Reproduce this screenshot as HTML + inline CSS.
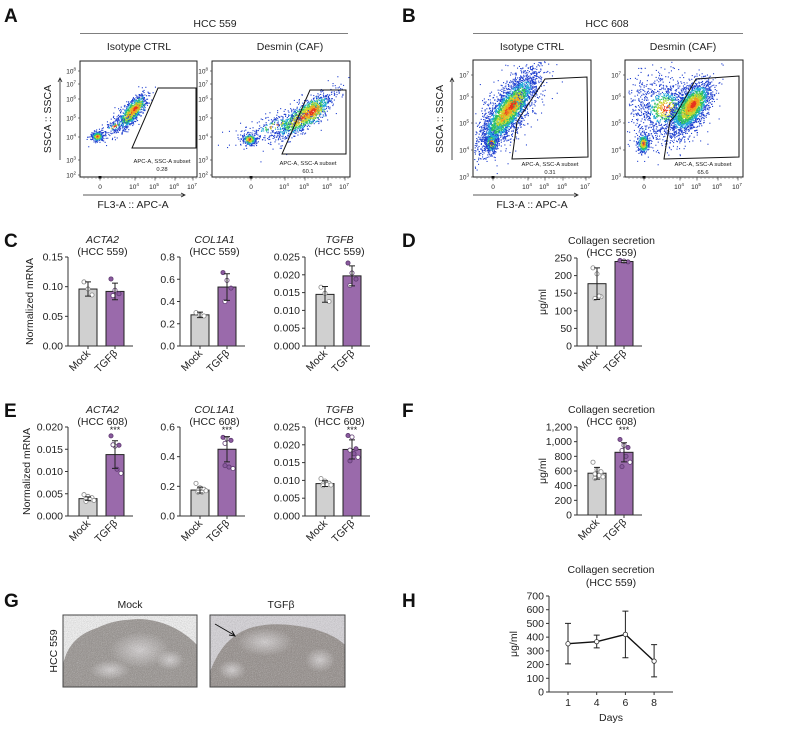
<!DOCTYPE html>
<html><head><meta charset="utf-8">
<style>
html,body{margin:0;padding:0;background:#fff;}
svg{display:block;font-family:"Liberation Sans",Arial,sans-serif;}
</style></head>
<body>
<svg id="fig" width="787" height="733" viewBox="0 0 787 733" xmlns="http://www.w3.org/2000/svg">
<defs>
<radialGradient id="spots" cx="50%" cy="50%" r="50%"><stop offset="0" stop-color="#e8e4e6" stop-opacity="0.8"/><stop offset="1" stop-color="#e8e4e6" stop-opacity="0"/></radialGradient>
<filter id="noise"><feTurbulence type="fractalNoise" baseFrequency="1.2" numOctaves="2" seed="3"/><feColorMatrix type="saturate" values="0"/><feComponentTransfer><feFuncA type="table" tableValues="0 0.7"/></feComponentTransfer><feComposite in2="SourceGraphic" operator="in"/></filter>
<clipPath id="clipG1"><rect x="63" y="615" width="134" height="72"/></clipPath>
<clipPath id="clipG2"><rect x="210" y="615" width="135" height="72"/></clipPath>
</defs>
<g id="root"></g>
</svg>
<script>
// ---------- data ----------
const cats = ['Mock', 'TGFβ'];
const cActa2Means = [0.096, 0.092];
const cActa2Sd = [0.012, 0.014];
const cActa2Mock = [0.108, 0.096, 0.086];
const cActa2Tgf = [0.113, 0.094, 0.088, 0.085];
const cActa2Ticks = [0, 0.05, 0.10, 0.15];
const cCol1Means = [0.28, 0.53];
const cCol1Sd = [0.025, 0.12];
const cCol1Mock = [0.30, 0.28, 0.27];
const cCol1Tgf = [0.66, 0.59, 0.52, 0.40];
const cCol1Ticks = [0, 0.2, 0.4, 0.6, 0.8];
const cTgfbMeans = [0.0145, 0.0197];
const cTgfbSd = [0.0022, 0.0028];
const cTgfbMock = [0.0165, 0.0148, 0.0125];
const cTgfbTgf = [0.0233, 0.0205, 0.0188, 0.0170];
const cTgfbTicks = [0, 0.005, 0.010, 0.015, 0.020, 0.025];
const dMeans = [177, 240];
const dSd = [45, 3];
const dMock = [222, 205, 140, 135, 142];
const dTgf = [243, 241, 239];
const dTicks = [0, 50, 100, 150, 200, 250];
const eActa2Means = [0.0039, 0.0138];
const eActa2Sd = [0.0004, 0.0031];
const eActa2Mock = [0.0048, 0.0044, 0.0041, 0.0039, 0.0037, 0.0035, 0.0033];
const eActa2Tgf = [0.0180, 0.0157, 0.0159, 0.0160, 0.0105, 0.0096];
const eActa2Ticks = [0, 0.005, 0.010, 0.015, 0.020];
const eCol1Means = [0.175, 0.45];
const eCol1Sd = [0.02, 0.085];
const eCol1Mock = [0.22, 0.19, 0.18, 0.17, 0.16, 0.17, 0.16];
const eCol1Tgf = [0.53, 0.52, 0.51, 0.49, 0.33, 0.32, 0.34];
const eCol1Ticks = [0, 0.2, 0.4, 0.6];
const eTgfbMeans = [0.0091, 0.0187];
const eTgfbSd = [0.0008, 0.0027];
const eTgfbMock = [0.0105, 0.0098, 0.0092, 0.0090, 0.0088, 0.0087, 0.0085];
const eTgfbTgf = [0.0226, 0.0222, 0.0189, 0.0185, 0.0175, 0.0165, 0.0155];
const eTgfbTicks = [0, 0.005, 0.010, 0.015, 0.020, 0.025];
const fMeans = [570, 855];
const fSd = [80, 130];
const fMock = [720, 620, 590, 560, 540, 520, 500];
const fTgf = [1030, 950, 920, 880, 800, 720, 660];
const fTicks = [0, 200, 400, 600, 800, 1000, 1200];
const hDays = ['1', '4', '6', '8'];
const hMeans = [352, 367, 420, 225];
const hLow = [205, 322, 250, 110];
const hHigh = [500, 415, 590, 345];
const hTicks = [0, 100, 200, 300, 400, 500, 600, 700];

// ---------- helpers ----------
const NS = 'http://www.w3.org/2000/svg';
const root = document.getElementById('root');
function el(tag, attrs, parent, txt) {
  const e = document.createElementNS(NS, tag);
  for (const k in attrs) e.setAttribute(k, attrs[k]);
  if (txt !== undefined) e.textContent = txt;
  (parent || root).appendChild(e);
  return e;
}
function grp(name, parent) {
  const g = el('g', {}, parent);
  
  
  return g;
}
function txt(x, y, s, size, anchor, parent, name, extra) {
  const a = {x: x, y: y, 'font-size': size, 'text-anchor': anchor || 'middle', fill: '#222'};
  if (extra) for (const k in extra) a[k] = extra[k];
  const t = el('text', a, parent, s);
  
  
  return t;
}
function fmtNum(v, dec) {
  const s = v.toFixed(dec);
  return s.replace(/\B(?=(\d{3})+(?!\d))/g, ',');
}

[['A', 4, 22], ['B', 402, 22], ['C', 4, 247], ['D', 402, 247], ['E', 4, 417], ['F', 402, 417], ['G', 4, 607], ['H', 402, 607]].forEach(function (p) {
  txt(p[1], p[2], p[0], 19, 'start', root, 'panel-letter-' + p[0].toLowerCase(), {'font-weight': 'bold', fill: '#111'});
});

function barChart(name, ax, yTop, yBot, ticks, dec, means, sds, mockPts, tgfPts, title1, title2, stars, yLabel, yLabelX) {
  const g = grp(name);
  const maxV = ticks[ticks.length - 1];
  const y = function (v) { return yBot - (v / maxV) * (yBot - yTop); };
  const xc = [ax + 20, ax + 47];
  const bw = 18;
  txt((ax + ax + 65) / 2 + 2, yTop - 14, title1, 10.5, 'middle', g, 'chart-title', title1 !== 'Collagen secretion' ? {'font-style': 'italic'} : {});
  txt((ax + ax + 65) / 2 + 2, yTop - 2, title2, 10.5, 'middle', g, 'chart-subtitle');
  for (let i = 0; i < 2; i++) {
    const r = el('rect', {x: xc[i] - bw / 2, y: y(means[i]), width: bw, height: yBot - y(means[i]), fill: i ? '#9a6aab' : '#d0d0d0', stroke: '#222', 'stroke-width': 1}, g);
    
    
  }
  [mockPts, tgfPts].forEach(function (pts, i) {
    pts.forEach(function (v, j) {
      const off = ((j % 3) - 1) * 4 + (j > 2 ? 2 : 0);
      const c = el('circle', {cx: xc[i] + off, cy: y(v), r: 2.1, fill: i ? (j % 2 ? '#fff' : '#8a5a9e') : '#fff', stroke: i ? '#5e3a70' : '#888', 'stroke-width': 0.8}, g);
      
      
    });
  });
  for (let i = 0; i < 2; i++) {
    const lo = y(means[i] - sds[i]), hi = y(means[i] + sds[i]);
    const e = el('path', {d: 'M' + xc[i] + ' ' + lo + 'V' + hi + 'M' + (xc[i] - 3) + ' ' + lo + 'h6M' + (xc[i] - 3) + ' ' + hi + 'h6', stroke: '#222', 'stroke-width': 1, fill: 'none'}, g);
    
    
  }
  if (stars) txt(xc[1], yTop + 6, '***', 9, 'middle', g, 'significance-stars');
  const axl = el('path', {d: 'M' + ax + ' ' + yTop + 'V' + yBot + 'H' + (ax + 65), stroke: '#333', 'stroke-width': 1, fill: 'none'}, g);
  
  
  ticks.forEach(function (t) {
    el('line', {x1: ax - 3, x2: ax, y1: y(t), y2: y(t), stroke: '#333'}, g);
    txt(ax - 5, y(t) + 3.5, fmtNum(t, dec), 10.5, 'end', g, 'y-tick-label');
  });
  for (let i = 0; i < 2; i++) {
    el('line', {x1: xc[i], x2: xc[i], y1: yBot, y2: yBot + 3, stroke: '#333'}, g);
    txt(xc[i] + 3, yBot + 8, cats[i], 10.5, 'end', g, 'x-tick-label', {transform: 'rotate(-45 ' + (xc[i] + 3) + ' ' + (yBot + 8) + ')'});
  }
  if (yLabel) {
    const cy = (yTop + yBot) / 2;
    txt(yLabelX, cy, yLabel, 10.5, 'middle', g, 'y-axis-title', {transform: 'rotate(-90 ' + yLabelX + ' ' + cy + ')'});
  }
}

barChart('chart-c-acta2', 68, 257, 346, cActa2Ticks, 2, cActa2Means, cActa2Sd, cActa2Mock, cActa2Tgf, 'ACTA2', '(HCC 559)', false, 'Normalized mRNA', 33);
barChart('chart-c-col1a1', 180, 257, 346, cCol1Ticks, 1, cCol1Means, cCol1Sd, cCol1Mock, cCol1Tgf, 'COL1A1', '(HCC 559)', false);
barChart('chart-c-tgfb', 305, 257, 346, cTgfbTicks, 3, cTgfbMeans, cTgfbSd, cTgfbMock, cTgfbTgf, 'TGFB', '(HCC 559)', false);
barChart('chart-d-collagen', 577, 258, 346, dTicks, 0, dMeans, dSd, dMock, dTgf, 'Collagen secretion', '(HCC 559)', false, 'μg/ml', 546);
barChart('chart-e-acta2', 68, 427, 516, eActa2Ticks, 3, eActa2Means, eActa2Sd, eActa2Mock, eActa2Tgf, 'ACTA2', '(HCC 608)', true, 'Normalized mRNA', 30);
barChart('chart-e-col1a1', 180, 427, 516, eCol1Ticks, 1, eCol1Means, eCol1Sd, eCol1Mock, eCol1Tgf, 'COL1A1', '(HCC 608)', true);
barChart('chart-e-tgfb', 305, 427, 516, eTgfbTicks, 3, eTgfbMeans, eTgfbSd, eTgfbMock, eTgfbTgf, 'TGFB', '(HCC 608)', true);
barChart('chart-f-collagen', 577, 427, 515, fTicks, 0, fMeans, fSd, fMock, fTgf, 'Collagen secretion', '(HCC 608)', true, 'μg/ml', 546);

(function () {
  const g = grp('chart-h-collagen-time');
  const ax = 549, yTop = 596, yBot = 692, xEnd = 673;
  const maxV = hTicks[hTicks.length - 1];
  const y = function (v) { return yBot - v / maxV * (yBot - yTop); };
  const x = function (i) { return 568 + i * 28.7; };
  txt(611, 573, 'Collagen secretion', 10.5, 'middle', g, 'chart-title');
  txt(611, 586, '(HCC 559)', 10.5, 'middle', g, 'chart-subtitle');
  el('path', {d: 'M' + ax + ' ' + yTop + 'V' + yBot + 'H' + xEnd, stroke: '#333', fill: 'none'}, g);
  hTicks.forEach(function (t) {
    el('line', {x1: ax - 3, x2: ax, y1: y(t), y2: y(t), stroke: '#333'}, g);
    txt(ax - 5, y(t) + 3.5, String(t), 10.5, 'end', g, 'y-tick-label');
  });
  hDays.forEach(function (d, i) {
    el('line', {x1: x(i), x2: x(i), y1: yBot, y2: yBot + 3, stroke: '#333'}, g);
    txt(x(i), yBot + 14, d, 10.5, 'middle', g, 'x-tick-label');
  });
  txt(611, 721, 'Days', 10.5, 'middle', g, 'x-axis-title');
  txt(517, 644, 'μg/ml', 10.5, 'middle', g, 'y-axis-title', {transform: 'rotate(-90 517 644)'});
  hMeans.forEach(function (m, i) {
    const e = el('path', {d: 'M' + x(i) + ' ' + y(hLow[i]) + 'V' + y(hHigh[i]) + 'M' + (x(i) - 3) + ' ' + y(hLow[i]) + 'h6M' + (x(i) - 3) + ' ' + y(hHigh[i]) + 'h6', stroke: '#222', fill: 'none'}, g);
    
    
  });
  const line = el('polyline', {points: hMeans.map(function (m, i) { return x(i) + ',' + y(m); }).join(' '), fill: 'none', stroke: '#111', 'stroke-width': 1.4}, g);
  
  
  hMeans.forEach(function (m, i) {
    const c = el('circle', {cx: x(i), cy: y(m), r: 2.2, fill: '#fff', stroke: '#333', 'stroke-width': 0.8}, g);
    
    
  });
})();

let seed = 12345;
function rnd() { seed = (seed * 1103515245 + 12345) % 2147483648; return seed / 2147483648; }
function gauss() { let u = 0, v = 0; while (u === 0) u = rnd(); v = rnd(); return Math.sqrt(-2 * Math.log(u)) * Math.cos(2 * Math.PI * v); }
function colorFor(r) {
  if (r < 0.3) return '#e8321e';
  if (r < 0.6) return '#f0a020';
  if (r < 0.9) return '#c8d830';
  if (r < 1.25) return '#30c060';
  if (r < 1.6) return '#20a8d8';
  return '#2040d0';
}
function cloud(g, blobs, clip) {
  blobs.forEach(function (b) {
    const a = b[4] * Math.PI / 180;
    for (let i = 0; i < b[5]; i++) {
      const u = gauss() * (b[6] || 1), v = gauss() * (b[6] || 1);
      const dx = u * b[2], dy = v * b[3];
      const px = b[0] + dx * Math.cos(a) - dy * Math.sin(a);
      const py = b[1] + dx * Math.sin(a) + dy * Math.cos(a);
      if (px < clip[0] + 1 || px > clip[2] - 1 || py < clip[1] + 1 || py > clip[3] - 1) continue;
      const r = Math.sqrt(u * u + v * v) * (b[7] || 1);
      el('rect', {x: px.toFixed(1), y: py.toFixed(1), width: 1.1, height: 1.1, fill: colorFor(r)}, g);
    }
  });
}
function flowPlot(name, box, yTicks, xTicks, blobs, gate, gateLabelX, gateLabelY, pct) {
  const g = grp(name);
  const dots = grp('scatter-points', g);
  cloud(dots, blobs, box);
  const fr = el('rect', {x: box[0], y: box[1], width: box[2] - box[0], height: box[3] - box[1], fill: 'none', stroke: '#222', 'stroke-width': 1}, g);
  
  
  const gp = el('polygon', {points: gate, fill: 'none', stroke: '#111', 'stroke-width': 1}, g);
  
  
  txt(gateLabelX, gateLabelY, 'APC-A, SSC-A subset', 5.8, 'middle', g, 'gate-label');
  txt(gateLabelX, gateLabelY + 8, pct, 5.8, 'middle', g, 'gate-percentage');
  yTicks.forEach(function (t) {
    el('line', {x1: box[0] - 2, x2: box[0], y1: t[1], y2: t[1], stroke: '#444', 'stroke-width': 0.7}, g);
    const tt = txt(box[0] - 4, t[1] + 2.5, '10', 6.5, 'end', g, 'y-tick-label');
    el('tspan', {dy: -3, 'font-size': 4.5}, tt, t[0]);
  });
  for (let x = box[0] + 4; x < box[2]; x += 4) el('line', {x1: x, x2: x, y1: box[3], y2: box[3] + 2, stroke: '#666', 'stroke-width': 0.5}, g);
  xTicks.forEach(function (t) {
    el('line', {x1: t[1], x2: t[1], y1: box[3], y2: box[3] + 3.5, stroke: '#444', 'stroke-width': 0.7}, g);
    if (t[0] === '0') { txt(t[1], box[3] + 12, '0', 6.5, 'middle', g, 'x-tick-label'); el('rect', {x: t[1] - 1.5, y: box[3] - 1, width: 3, height: 2.5, fill: '#111'}, g); }
    else { const tt = txt(t[1] - 1, box[3] + 12, '10', 6.5, 'middle', g, 'x-tick-label'); el('tspan', {dy: -3, 'font-size': 4.5}, tt, t[0]); }
  });
}
function header(name, cx, x1, x2, title, sub1, c1, sub2, c2) {
  const g = grp(name);
  txt(cx, 27, title, 10.5, 'middle', g, 'group-title');
  el('line', {x1: x1, x2: x2, y1: 33.5, y2: 33.5, stroke: '#555', 'stroke-width': 0.8}, g);
  txt(c1, 50, sub1, 10.5, 'middle', g, 'plot-title');
  txt(c2, 50, sub2, 10.5, 'middle', g, 'plot-title');
}
function axisArrows(name, ax, ayTop, ayBot, bx1, bx2, by, ylx, xlx, xly) {
  const g = grp(name);
  el('path', {d: 'M' + ax + ' ' + ayBot + 'V' + ayTop + 'M' + (ax - 2) + ' ' + (ayTop + 4) + 'L' + ax + ' ' + ayTop + 'L' + (ax + 2) + ' ' + (ayTop + 4), stroke: '#222', fill: 'none', 'stroke-width': 0.8}, g);
  el('path', {d: 'M' + bx1 + ' ' + by + 'H' + bx2 + 'M' + (bx2 - 4) + ' ' + (by - 2) + 'L' + bx2 + ' ' + by + 'L' + (bx2 - 4) + ' ' + (by + 2), stroke: '#222', fill: 'none', 'stroke-width': 0.8}, g);
  const cy = (ayTop + ayBot) / 2;
  txt(ylx, cy, 'SSCA :: SSCA', 10.5, 'middle', g, 'y-axis-title', {transform: 'rotate(-90 ' + ylx + ' ' + cy + ')'});
  txt(xlx, xly, 'FL3-A :: APC-A', 10.5, 'middle', g, 'x-axis-title');
}

header('panel-a-header', 215, 80, 348, 'HCC 559', 'Isotype CTRL', 139, 'Desmin (CAF)', 290);
const aYT = [['8', 71], ['7', 84], ['6', 99], ['5', 118], ['4', 137], ['3', 160], ['2', 175]];
flowPlot('flow-a-isotype', [80, 61, 197, 177], aYT,
  [['0', 100], ['4', 135], ['5', 155], ['6', 175], ['7', 193]],
  [[97, 136, 3, 2.5, 0, 260], [131, 112, 11, 4, -52, 900], [135, 108, 5, 2.5, -52, 150, 1, 0.5], [114, 126, 9, 3, -30, 120, 1.2, 1.8]],
  '158,88 196,88 196,148 132,148', 162, 163, '0.28');
flowPlot('flow-a-desmin', [212, 61, 350, 177], aYT,
  [['0', 251], ['4', 285], ['5', 305], ['6', 328], ['7', 345]],
  [[249, 139, 3.5, 3, 0, 260], [303, 116, 18, 6, -35, 1100], [312, 111, 7, 4, -40, 250, 1, 0.5], [275, 125, 18, 5, -20, 250, 1.2, 1.8]],
  '310,90 346,90 346,154 282,154', 308, 165, '60.1');
axisArrows('panel-a-axes', 60, 78, 160, 83, 185, 195, 51, 133, 208);

header('panel-b-header', 607, 473, 743, 'HCC 608', 'Isotype CTRL', 532, 'Desmin (CAF)', 683);
const bYT = [['7', 75], ['6', 97], ['5', 123], ['4', 150], ['3', 177]];
flowPlot('flow-b-isotype', [473, 60, 591, 177], bYT,
  [['0', 493], ['4', 528], ['5', 545], ['6', 563], ['7', 586]],
  [[491, 142, 3, 5, 0, 400], [508, 110, 22, 7, -55, 2600], [512, 105, 8, 3.5, -55, 400, 1, 0.45], [505, 112, 24, 12, -55, 500, 1.2, 1.9]],
  '545,79 587,77 588,157 512,159 517,122 520,117', 550, 166, '0.31');
flowPlot('flow-b-desmin', [625, 60, 743, 177], bYT,
  [['0', 644], ['4', 680], ['5', 697], ['6', 718], ['7', 738]],
  [[643, 143, 3, 5, 0, 350], [665, 108, 18, 17, 0, 1200, 1, 1.8], [690, 107, 15, 7, -55, 1900], [693, 104, 6, 3.5, -55, 350, 1, 0.45]],
  '696,79 739,76 739,157 664,159 670,121 675,116', 703, 166, '65.6');
axisArrows('panel-b-axes', 452, 78, 160, 473, 578, 195, 443, 532, 208);

(function () {
  const g = grp('panel-g-images');
  txt(130, 608, 'Mock', 10.5, 'middle', g, 'image-title');
  txt(281, 608, 'TGFβ', 10.5, 'middle', g, 'image-title');
  txt(57, 651, 'HCC 559', 10.5, 'middle', g, 'row-label', {transform: 'rotate(-90 57 651)'});
  const m = grp('image-mock', g);
  el('rect', {x: 63, y: 615, width: 134, height: 72, fill: '#fbfbfb'}, m);
  const mg = el('g', {'clip-path': 'url(#clipG1)'}, m);
  el('path', {d: 'M63 665 C68 640 85 632 97 628 C110 622 118 620 140 619 C165 620 185 632 197 645 L197 687 L63 687 Z', fill: '#8e8884'}, mg);
  el('ellipse', {cx: 140, cy: 650, rx: 30, ry: 18, fill: 'url(#spots)'}, mg);
  el('ellipse', {cx: 170, cy: 660, rx: 14, ry: 10, fill: 'url(#spots)'}, mg);
  el('ellipse', {cx: 110, cy: 670, rx: 20, ry: 10, fill: 'url(#spots)'}, mg);
  el('rect', {x: 63, y: 615, width: 134, height: 72, fill: '#666', filter: 'url(#noise)'}, mg);
  el('rect', {x: 63, y: 615, width: 134, height: 72, fill: 'none', stroke: '#444', 'stroke-width': 1}, m);
  const t = grp('image-tgfb', g);
  el('rect', {x: 210, y: 615, width: 135, height: 72, fill: '#d9d6dc'}, t);
  const tg = el('g', {'clip-path': 'url(#clipG2)'}, t);
  el('path', {d: 'M210 672 C218 650 230 635 250 628 C270 622 290 624 310 628 C330 633 340 640 345 645 L345 687 L210 687 Z', fill: '#8a827e'}, tg);
  el('ellipse', {cx: 265, cy: 642, rx: 28, ry: 14, fill: 'url(#spots)'}, tg);
  el('ellipse', {cx: 320, cy: 660, rx: 15, ry: 12, fill: 'url(#spots)'}, tg);
  el('ellipse', {cx: 232, cy: 670, rx: 14, ry: 10, fill: 'url(#spots)'}, tg);
  el('rect', {x: 210, y: 615, width: 135, height: 72, fill: '#666', filter: 'url(#noise)'}, tg);
  el('rect', {x: 210, y: 615, width: 135, height: 72, fill: 'none', stroke: '#444', 'stroke-width': 1}, t);
  const ar = el('path', {d: 'M215 624 L234 635 M229 635 L235 636 L232 631', stroke: '#111', 'stroke-width': 1, fill: 'none'}, t);
  
  
})();
</script>
</body></html>
